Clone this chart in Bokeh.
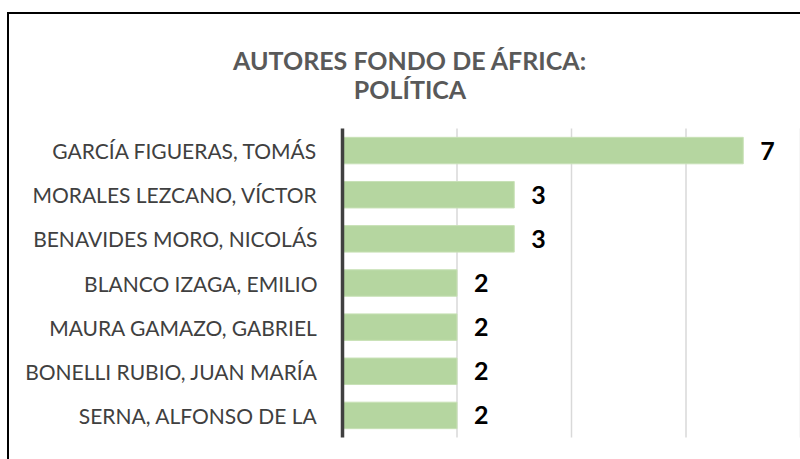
from bokeh.plotting import figure
from bokeh.models import ColumnDataSource, Range1d, InlineStyleSheet
from bokeh.core.properties import value
from bokeh.embed import file_html
from bokeh.resources import INLINE

# ---- data ----
authors = [
    "GARCÍA FIGUERAS, TOMÁS",
    "MORALES LEZCANO, VÍCTOR",
    "BENAVIDES MORO, NICOLÁS",
    "BLANCO IZAGA, EMILIO",
    "MAURA GAMAZO, GABRIEL",
    "BONELLI RUBIO, JUAN MARÍA",
    "SERNA, ALFONSO DE LA",
]
counts = [7, 3, 3, 2, 2, 2, 2]
grid_ticks = [2, 4, 6, 8]
title_lines = ["AUTORES FONDO DE ÁFRICA:", "POLÍTICA"]

FONT = "Lato"
W, H = 800, 459

n = len(authors)
rows = [n - 1 - i for i in range(n)]          # first author on top
source = ColumnDataSource(dict(
    row=rows,
    count=counts,
    author=authors,
    label=[str(c) for c in counts],
))

# Pixel layout of the plotting area (the frame covers the whole canvas so
# that titles and category names can be drawn as text glyphs):
AXIS_PX = 342          # x pixel of value 0
UNIT_PX = 57.25        # pixels per unit on the value axis
TOP_PX, BOT_PX = 128, 437
ROW_PX = (BOT_PX - TOP_PX) / n

x_lo = -AXIS_PX / UNIT_PX
x_hi = (W - AXIS_PX) / UNIT_PX
y_bar_lo, y_bar_hi = -0.5, n - 0.5
y_lo = y_bar_lo - (H - BOT_PX) / ROW_PX
y_hi = y_bar_hi + TOP_PX / ROW_PX

def y_of_px(py):
    return y_bar_hi + (TOP_PX - py) / ROW_PX

p = figure(
    width=W, height=H,
    x_range=Range1d(x_lo, x_hi),
    y_range=Range1d(y_lo, y_hi),
    output_backend="svg",
    toolbar_location=None,
    min_border=0,
)
p.outline_line_color = None
p.background_fill_color = "white"
p.border_fill_color = "white"
p.xgrid.grid_line_color = None
p.ygrid.grid_line_color = None
p.xaxis.visible = False
p.yaxis.visible = False

# vertical gridlines (only over the bar area)
p.segment(x0=grid_ticks, x1=grid_ticks, y0=[y_bar_lo] * len(grid_ticks),
          y1=[y_bar_hi] * len(grid_ticks), line_color="#D9D9D9", line_width=1.5)

# bars
p.hbar(y="row", right="count", left=0, height=0.6, source=source,
       fill_color="#B5D6A0", line_color="#C8E1B6", line_width=1)

# category axis line
p.segment(x0=[0], x1=[0], y0=[y_bar_lo], y1=[y_bar_hi],
          line_color="#404040", line_width=3.5)

# category names
p.text(x=0, y="row", text="author", source=source,
       x_offset=-25, text_align="right", text_baseline="middle",
       text_font=value(FONT), text_font_size="21px", text_color="#404040")

# value labels
p.text(x="count", y="row", text="label", source=source,
       x_offset=17, text_align="left", text_baseline="middle",
       text_font=value(FONT), text_font_style="bold",
       text_font_size="25px", text_color="black")

# title (two centred lines)
title_x = (409.5 - AXIS_PX) / UNIT_PX
p.text(x=[title_x, title_x], y=[y_of_px(59), y_of_px(88)], text=title_lines,
       text_align="center", text_baseline="alphabetic",
       text_font=value(FONT), text_font_style="bold",
       text_font_size="25px", text_color="#595959")

# chart border (left and top edges visible in the window)
p.stylesheets = [InlineStyleSheet(css="""
:host::after {
  content: "";
  position: absolute;
  left: 7px; top: 12px; right: 0; bottom: 0;
  border-left: 2.5px solid black;
  border-top: 2.5px solid black;
  pointer-events: none;
}
""")]

open("out.html", "w").write(file_html(p, INLINE))
